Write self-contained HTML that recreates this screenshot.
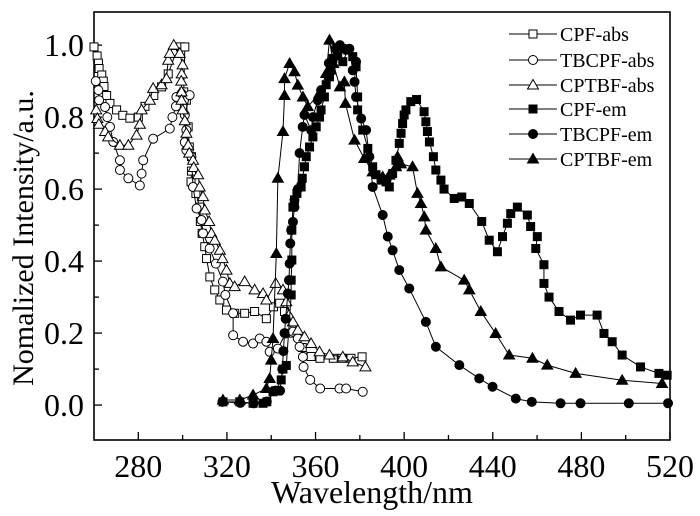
<!DOCTYPE html>
<html><head><meta charset="utf-8"><style>
html,body{margin:0;padding:0;background:#fff;}
svg{display:block;font-family:"Liberation Serif",serif;}
</style></head><body>
<svg id="chart" width="700" height="516" viewBox="0 0 700 516" xmlns="http://www.w3.org/2000/svg"></svg>
<script>
const xTicks=[280,320,360,400,440,480,520];
const yTicks=[0.0,0.2,0.4,0.6,0.8,1.0];
const seriesNames=["CPF-abs","TBCPF-abs","CPTBF-abs","CPF-em","TBCPF-em","CPTBF-em"];
const cpfAbsX=[260,261.4,262,262.3,263.5,264.2,264.5,265.7,267.2,270.2,273,276.2,280,283,287,290.5,293.5,296.8,299,301,300.5,301.7,302.5,303,304,304,303.8,306,307.7,308,308.8,310,310.8,312.3,314.5,316.8,319.8,323.5,328,332.5,337.8,341,343.8,346,350,354,358,362,368,372,376,381];
const cpfAbsY=[0.995,0.97,0.95,0.935,0.917,0.9,0.885,0.86,0.838,0.82,0.805,0.797,0.80,0.83,0.86,0.884,0.92,0.977,0.995,0.995,0.87,0.847,0.773,0.717,0.69,0.65,0.62,0.588,0.55,0.51,0.477,0.44,0.407,0.356,0.32,0.292,0.264,0.255,0.255,0.26,0.24,0.273,0.283,0.26,0.2,0.16,0.135,0.13,0.13,0.13,0.13,0.134];
const tbAbsX=[260.8,262,262.3,265,266,267.2,268.7,271.7,271.7,275.5,280.7,281.5,282.2,286.7,294.2,295.4,297,297.2,299.5,303.2,301,301.7,301,301.7,304,304.7,306.3,308.5,309.2,312.2,315,318.2,319.3,322.8,322.8,327.3,331.8,334.8,337.8,339.3,343,346.5,349.8,352,352.8,354.3,354.6,357.6,362.1,370.8,373.8,381.3];
const tbAbsY=[0.9,0.875,0.847,0.828,0.8,0.773,0.731,0.68,0.653,0.63,0.61,0.643,0.68,0.74,0.768,0.8,0.83,0.856,0.866,0.861,0.806,0.764,0.73,0.708,0.69,0.606,0.546,0.514,0.477,0.435,0.393,0.343,0.306,0.255,0.194,0.176,0.171,0.185,0.176,0.148,0.157,0.199,0.204,0.185,0.162,0.134,0.106,0.07,0.046,0.046,0.046,0.037];
const cptAbsX=[261,261.5,262.2,265,266.4,271.7,275.5,279.2,280.7,281.5,285.2,286.7,290.5,292.7,293.5,294.2,296,298.7,300,299.6,299.4,299.5,299.5,300,301,301.7,302.5,303,304.7,305,307,307.7,309.2,310,312,313,314.5,316.8,318,319.8,321.3,323.5,328,332.5,336.3,337.8,342,345.3,346.8,348,349.8,352,355,358,361.8,366.3,372.3,376.8,382.5];
const cptAbsY=[0.82,0.796,0.78,0.76,0.745,0.722,0.722,0.75,0.78,0.82,0.847,0.88,0.89,0.907,0.958,0.977,1.0,0.977,0.945,0.92,0.9,0.87,0.847,0.82,0.79,0.755,0.722,0.7,0.68,0.66,0.64,0.606,0.579,0.542,0.51,0.477,0.458,0.43,0.407,0.375,0.338,0.329,0.343,0.32,0.31,0.292,0.338,0.32,0.287,0.25,0.231,0.208,0.19,0.171,0.148,0.139,0.134,0.12,0.106];
const cpfEmX=[318.2,325.8,331.8,336.3,338,340.8,342,344.5,345.3,346.8,349,349,349.3,349.3,349.8,350.5,351.6,353.5,354,355,355.8,357.3,358.8,360.3,361.8,362.5,364,364.8,366.3,367,367.8,370,372.3,374.6,376.8,378.3,379,379,381.3,383.6,385.8,387.3,389.6,391.8,393.3,394.8,396.3,397.8,398.6,399.3,400,400.8,403,405.6,409,409.8,410.5,411.4,413.2,414.3,416.6,418,422.6,426,429.4,435,438.4,442.1,444.4,446.6,448.1,451.1,455.6,457.1,460.1,459.4,463.1,463.1,465.4,469.9,475.1,479.6,487.1,490.2,493.9,498.4,506.7,515,518.7];
const cpfEmY=[0.009,0.009,0.005,0.005,0.009,0.037,0.04,0.07,0.1,0.11,0.306,0.347,0.403,0.486,0.55,0.57,0.588,0.606,0.63,0.662,0.69,0.717,0.745,0.773,0.8,0.82,0.856,0.89,0.912,0.93,0.963,0.97,0.954,0.986,0.968,0.94,0.856,0.82,0.764,0.713,0.662,0.64,0.625,0.62,0.606,0.643,0.68,0.727,0.755,0.782,0.806,0.82,0.843,0.849,0.815,0.787,0.76,0.731,0.69,0.653,0.625,0.6,0.574,0.578,0.56,0.51,0.458,0.426,0.468,0.505,0.532,0.55,0.528,0.496,0.468,0.435,0.39,0.338,0.3,0.26,0.236,0.25,0.25,0.199,0.176,0.139,0.106,0.088,0.083];
const tbEmX=[318,326,332,338,342,344,345,345.5,346,346.5,347.5,348,348.3,348.6,349,349.8,350.5,350.5,352,352.8,354.2,355,358,358.8,361,362.5,366,369,371,373,375.3,376.8,378.3,377.6,378.3,380.6,382.8,384.3,385.8,390.3,392.6,394.8,397.8,402.3,409.8,414.3,424.9,433.9,439.9,450.4,457.6,470.6,479.6,501.4,519.1];
const tbEmY=[0.009,0.006,0.005,0.01,0.04,0.04,0.1,0.15,0.2,0.24,0.31,0.347,0.393,0.449,0.486,0.509,0.55,0.57,0.6,0.7,0.773,0.806,0.764,0.8,0.847,0.875,0.95,0.99,1.0,0.99,0.99,0.93,0.954,0.898,0.856,0.796,0.764,0.69,0.606,0.528,0.468,0.43,0.375,0.324,0.231,0.162,0.111,0.074,0.051,0.018,0.009,0.005,0.005,0.005,0.005];
const cptEmX=[318.2,325.8,331.8,337.8,339.3,340,340.8,342.3,343,345.3,346,346,348.3,350.5,352,354.3,356.5,361.8,364.8,366.3,368,371,373,373.5,377.6,382,385.8,390.3,393.3,396.3,397,398.5,403.8,406,407.6,409.1,409.8,414.3,416.6,427.1,429.4,434.6,441.3,447.4,457.9,464.6,477.4,498.4,516.4];
const cptEmY=[0.014,0.014,0.028,0.046,0.074,0.125,0.185,0.421,0.63,0.76,0.86,0.907,0.949,0.926,0.889,0.856,0.829,0.866,0.921,1.014,0.949,0.884,0.898,0.838,0.736,0.685,0.648,0.634,0.639,0.662,0.69,0.67,0.662,0.588,0.56,0.523,0.486,0.435,0.384,0.347,0.32,0.26,0.199,0.139,0.13,0.111,0.088,0.069,0.06];

const L=94,R=670,T=12,B=440,xMin=260,xMax=520,yMin=-0.097,yMax=1.092;
const sx=v=>L+(v-xMin)/(xMax-xMin)*(R-L);
const sy=v=>B-(v-yMin)/(yMax-yMin)*(B-T);
const NS="http://www.w3.org/2000/svg";
const svg=document.getElementById('chart');
function mk(tag,attrs,parent){const e=document.createElementNS(NS,tag);for(const k in attrs)e.setAttribute(k,attrs[k]);(parent||svg).appendChild(e);return e;}

const frame=mk('rect',{x:L,y:T,width:R-L,height:B-T,fill:'none',stroke:'#000','stroke-width':1.6});



const gx=mk('g',{});


for(let v=280;v<=520;v+=20){
  const major=xTicks.includes(v);
  mk('line',{x1:sx(v),x2:sx(v),y1:B,y2:B-(major?8:5),stroke:'#000','stroke-width':1.3},gx);
}
xTicks.forEach(v=>{
  const t=mk('text',{x:sx(v),y:477,'text-anchor':'middle','font-size':32},gx);
  t.textContent=v;
  
  
});
const gy=mk('g',{});


for(let i=-1;i<=11;i++){
  const v=i/10;const major=i>=0&&i%2===0;
  if(sy(v)>B||sy(v)<T)continue;
  mk('line',{x1:L,x2:L+(major?8:5),y1:sy(v),y2:sy(v),stroke:'#000','stroke-width':1.3},gy);
}
yTicks.forEach(v=>{
  const t=mk('text',{x:84,y:sy(v)+11,'text-anchor':'end','font-size':32},gy);
  t.textContent=v.toFixed(1);
  
  
});
const xt=mk('text',{x:372,y:503,'text-anchor':'middle','font-size':32});
xt.textContent='Wavelength/nm';


const yt=mk('text',{x:0,y:0,'text-anchor':'middle','font-size':30,transform:'translate(33,238) rotate(-90)'});
yt.textContent='Nomalized Intensity/a.u.';



function marker(g,shape,filled,x,y){
  const f=filled?'#000':'#fff',s='#000';
  if(shape==='sq') return mk('rect',{x:x-4,y:y-4,width:8,height:8,fill:f,stroke:s,'stroke-width':1},g);
  if(shape==='ci') return mk('circle',{cx:x,cy:y,r:4.5,fill:f,stroke:s,'stroke-width':1},g);
  return mk('polygon',{points:`${x},${y-5.5} ${x-5.5},${y+4} ${x+5.5},${y+4}`,fill:f,stroke:s,'stroke-width':1},g);
}
const series=[[cpfAbsX,cpfAbsY,'sq',false],[tbAbsX,tbAbsY,'ci',false],[cptAbsX,cptAbsY,'tr',false],[cpfEmX,cpfEmY,'sq',true],[tbEmX,tbEmY,'ci',true],[cptEmX,cptEmY,'tr',true]];
const slugs=['cpf-abs','tbcpf-abs','cptbf-abs','cpf-em','tbcpf-em','cptbf-em'];
series.forEach((s,i)=>{
  const g=mk('g',{});
  
  
  const pts=s[0].map((x,j)=>sx(x)+','+sy(s[1][j])).join(' ');
  mk('polyline',{points:pts,fill:'none',stroke:'#000','stroke-width':1},g);
  s[0].forEach((x,j)=>{
    const m=marker(g,s[2],s[3],sx(x),sy(s[1][j]));
    
    
  });
});
const lg=mk('g',{});


const rowsY=[34,60,85,109,134,159];
seriesNames.forEach((n,i)=>{
  const e=mk('g',{},lg);
  
  
  mk('line',{x1:509,x2:557,y1:rowsY[i],y2:rowsY[i],stroke:'#000','stroke-width':1},e);
  marker(e,series[i][2],series[i][3],533,rowsY[i]);
  const t=mk('text',{x:560,y:rowsY[i]+7,'font-size':20},e);
  t.textContent=n;
});
</script>
</body></html>
